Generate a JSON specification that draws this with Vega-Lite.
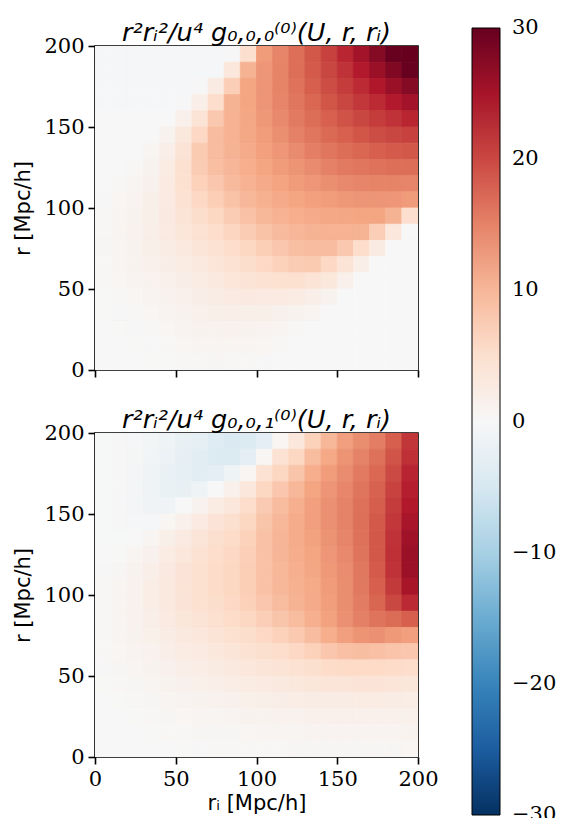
{
"$schema":"https://vega.github.io/schema/vega-lite/v6.json",
"padding":{"left":12,"top":19,"right":0,"bottom":0},
"background":"white",
"config":{
 "font":"DejaVu Sans",
 "view":{"stroke":"black","strokeWidth":1.6},
 "axis":{"grid":false,"domain":false,"labelFlush":false,"tickColor":"black","tickWidth":1.6,"tickSize":7,"labelFont":"DejaVu Serif","labelFontSize":21,"labelColor":"black","labelPadding":4,"titleFont":"DejaVu Sans","titleFontSize":21,"titleFontWeight":"normal","titleColor":"black"},
 "title":{"font":"DejaVu Sans","fontSize":25.5,"fontWeight":"normal","fontStyle":"italic","color":"black","anchor":"middle","frame":"group","baseline":"alphabetic","offset":-11}
},
"datasets":{
"top":[
{"u":5,"v":195,"z":-0.4},{"u":15,"v":195,"z":-0.4},{"u":25,"v":195,"z":-0.4},{"u":35,"v":195,"z":-0.4},{"u":45,"v":195,"z":-0.4},{"u":55,"v":195,"z":-0.4},{"u":65,"v":195,"z":-0.4},{"u":75,"v":195,"z":-0.3},{"u":85,"v":195,"z":-0.2},{"u":95,"v":195,"z":5.1},{"u":105,"v":195,"z":12.9},{"u":115,"v":195,"z":14.8},{"u":125,"v":195,"z":16.7},{"u":135,"v":195,"z":18.6},{"u":145,"v":195,"z":20.5},{"u":155,"v":195,"z":22.8},{"u":165,"v":195,"z":25.2},{"u":175,"v":195,"z":27.6},{"u":185,"v":195,"z":29.9},{"u":195,"v":195,"z":32},
{"u":5,"v":185,"z":-0.4},{"u":15,"v":185,"z":-0.4},{"u":25,"v":185,"z":-0.4},{"u":35,"v":185,"z":-0.4},{"u":45,"v":185,"z":-0.4},{"u":55,"v":185,"z":-0.4},{"u":65,"v":185,"z":-0.4},{"u":75,"v":185,"z":-0.3},{"u":85,"v":185,"z":3.5},{"u":95,"v":185,"z":10.5},{"u":105,"v":185,"z":13.3},{"u":115,"v":185,"z":14.9},{"u":125,"v":185,"z":16.7},{"u":135,"v":185,"z":18.4},{"u":145,"v":185,"z":20.1},{"u":155,"v":185,"z":21.8},{"u":165,"v":185,"z":23.9},{"u":175,"v":185,"z":25.9},{"u":185,"v":185,"z":28},{"u":195,"v":185,"z":29.9},
{"u":5,"v":175,"z":-0.4},{"u":15,"v":175,"z":-0.4},{"u":25,"v":175,"z":-0.4},{"u":35,"v":175,"z":-0.4},{"u":45,"v":175,"z":-0.4},{"u":55,"v":175,"z":-0.4},{"u":65,"v":175,"z":-0.2},{"u":75,"v":175,"z":2.6},{"u":85,"v":175,"z":7.4},{"u":95,"v":175,"z":11.9},{"u":105,"v":175,"z":13.4},{"u":115,"v":175,"z":14.9},{"u":125,"v":175,"z":16.4},{"u":135,"v":175,"z":18},{"u":145,"v":175,"z":19.6},{"u":155,"v":175,"z":21},{"u":165,"v":175,"z":22.4},{"u":175,"v":175,"z":24.2},{"u":185,"v":175,"z":25.9},{"u":195,"v":175,"z":27.6},
{"u":5,"v":165,"z":-0.3},{"u":15,"v":165,"z":-0.3},{"u":25,"v":165,"z":-0.3},{"u":35,"v":165,"z":-0.3},{"u":45,"v":165,"z":-0.3},{"u":55,"v":165,"z":-0.2},{"u":65,"v":165,"z":1.9},{"u":75,"v":165,"z":5.5},{"u":85,"v":165,"z":10.5},{"u":95,"v":165,"z":11.9},{"u":105,"v":165,"z":13.4},{"u":115,"v":165,"z":14.8},{"u":125,"v":165,"z":16.1},{"u":135,"v":165,"z":17.4},{"u":145,"v":165,"z":18.8},{"u":155,"v":165,"z":20.1},{"u":165,"v":165,"z":21.3},{"u":175,"v":165,"z":22.4},{"u":185,"v":165,"z":23.9},{"u":195,"v":165,"z":25.2},
{"u":5,"v":155,"z":0},{"u":15,"v":155,"z":0},{"u":25,"v":155,"z":0},{"u":35,"v":155,"z":0},{"u":45,"v":155,"z":0},{"u":55,"v":155,"z":1.5},{"u":65,"v":155,"z":4.2},{"u":75,"v":155,"z":8.1},{"u":85,"v":155,"z":10.6},{"u":95,"v":155,"z":11.8},{"u":105,"v":155,"z":13.1},{"u":115,"v":155,"z":14.4},{"u":125,"v":155,"z":15.7},{"u":135,"v":155,"z":16.9},{"u":145,"v":155,"z":17.9},{"u":155,"v":155,"z":19.1},{"u":165,"v":155,"z":20.1},{"u":175,"v":155,"z":21},{"u":185,"v":155,"z":21.8},{"u":195,"v":155,"z":22.8},
{"u":5,"v":145,"z":0},{"u":15,"v":145,"z":0},{"u":25,"v":145,"z":0},{"u":35,"v":145,"z":0},{"u":45,"v":145,"z":1},{"u":55,"v":145,"z":3.2},{"u":65,"v":145,"z":6.2},{"u":75,"v":145,"z":9.4},{"u":85,"v":145,"z":10.6},{"u":95,"v":145,"z":11.7},{"u":105,"v":145,"z":12.7},{"u":115,"v":145,"z":13.9},{"u":125,"v":145,"z":15.1},{"u":135,"v":145,"z":16.1},{"u":145,"v":145,"z":17.1},{"u":155,"v":145,"z":17.9},{"u":165,"v":145,"z":18.8},{"u":175,"v":145,"z":19.6},{"u":185,"v":145,"z":20.1},{"u":195,"v":145,"z":20.5},
{"u":5,"v":135,"z":0},{"u":15,"v":135,"z":0},{"u":25,"v":135,"z":0},{"u":35,"v":135,"z":0.6},{"u":45,"v":135,"z":1.9},{"u":55,"v":135,"z":4.2},{"u":65,"v":135,"z":7.9},{"u":75,"v":135,"z":9.4},{"u":85,"v":135,"z":10.4},{"u":95,"v":135,"z":11.4},{"u":105,"v":135,"z":12.4},{"u":115,"v":135,"z":13.3},{"u":125,"v":135,"z":14.3},{"u":135,"v":135,"z":15.3},{"u":145,"v":135,"z":16.1},{"u":155,"v":135,"z":16.9},{"u":165,"v":135,"z":17.4},{"u":175,"v":135,"z":18},{"u":185,"v":135,"z":18.4},{"u":195,"v":135,"z":18.6},
{"u":5,"v":125,"z":0},{"u":15,"v":125,"z":0},{"u":25,"v":125,"z":0.3},{"u":35,"v":125,"z":1.1},{"u":45,"v":125,"z":2.5},{"u":55,"v":125,"z":4.7},{"u":65,"v":125,"z":7.7},{"u":75,"v":125,"z":9.1},{"u":85,"v":125,"z":10.1},{"u":95,"v":125,"z":11},{"u":105,"v":125,"z":11.9},{"u":115,"v":125,"z":12.8},{"u":125,"v":125,"z":13.5},{"u":135,"v":125,"z":14.3},{"u":145,"v":125,"z":15.1},{"u":155,"v":125,"z":15.7},{"u":165,"v":125,"z":16.1},{"u":175,"v":125,"z":16.4},{"u":185,"v":125,"z":16.7},{"u":195,"v":125,"z":16.7},
{"u":5,"v":115,"z":0},{"u":15,"v":115,"z":0.2},{"u":25,"v":115,"z":0.7},{"u":35,"v":115,"z":1.4},{"u":45,"v":115,"z":2.7},{"u":55,"v":115,"z":4.8},{"u":65,"v":115,"z":7},{"u":75,"v":115,"z":8.3},{"u":85,"v":115,"z":9.7},{"u":95,"v":115,"z":10.6},{"u":105,"v":115,"z":11.4},{"u":115,"v":115,"z":12.1},{"u":125,"v":115,"z":12.8},{"u":135,"v":115,"z":13.3},{"u":145,"v":115,"z":13.9},{"u":155,"v":115,"z":14.4},{"u":165,"v":115,"z":14.8},{"u":175,"v":115,"z":14.9},{"u":185,"v":115,"z":14.9},{"u":195,"v":115,"z":14.8},
{"u":5,"v":105,"z":0.15},{"u":15,"v":105,"z":0.5},{"u":25,"v":105,"z":0.9},{"u":35,"v":105,"z":1.7},{"u":45,"v":105,"z":2.8},{"u":55,"v":105,"z":4.5},{"u":65,"v":105,"z":6.2},{"u":75,"v":105,"z":7.5},{"u":85,"v":105,"z":8.7},{"u":95,"v":105,"z":10},{"u":105,"v":105,"z":10.7},{"u":115,"v":105,"z":11.4},{"u":125,"v":105,"z":11.9},{"u":135,"v":105,"z":12.4},{"u":145,"v":105,"z":12.7},{"u":155,"v":105,"z":13.1},{"u":165,"v":105,"z":13.4},{"u":175,"v":105,"z":13.4},{"u":185,"v":105,"z":13.3},{"u":195,"v":105,"z":12.9},
{"u":5,"v":95,"z":0.3},{"u":15,"v":95,"z":0.6},{"u":25,"v":95,"z":1.1},{"u":35,"v":95,"z":1.8},{"u":45,"v":95,"z":2.9},{"u":55,"v":95,"z":4.2},{"u":65,"v":95,"z":5.3},{"u":75,"v":95,"z":6.5},{"u":85,"v":95,"z":7.7},{"u":95,"v":95,"z":8.8},{"u":105,"v":95,"z":10},{"u":115,"v":95,"z":10.6},{"u":125,"v":95,"z":11},{"u":135,"v":95,"z":11.4},{"u":145,"v":95,"z":11.7},{"u":155,"v":95,"z":11.8},{"u":165,"v":95,"z":11.9},{"u":175,"v":95,"z":11.9},{"u":185,"v":95,"z":10.5},{"u":195,"v":95,"z":5.1},
{"u":5,"v":85,"z":0.3},{"u":15,"v":85,"z":0.7},{"u":25,"v":85,"z":1.2},{"u":35,"v":85,"z":1.9},{"u":45,"v":85,"z":2.8},{"u":55,"v":85,"z":3.7},{"u":65,"v":85,"z":4.5},{"u":75,"v":85,"z":5.5},{"u":85,"v":85,"z":6.6},{"u":95,"v":85,"z":7.7},{"u":105,"v":85,"z":8.7},{"u":115,"v":85,"z":9.7},{"u":125,"v":85,"z":10.1},{"u":135,"v":85,"z":10.4},{"u":145,"v":85,"z":10.6},{"u":155,"v":85,"z":10.6},{"u":165,"v":85,"z":10.5},{"u":175,"v":85,"z":7.4},{"u":185,"v":85,"z":3.5},{"u":195,"v":85,"z":0},
{"u":5,"v":75,"z":0.4},{"u":15,"v":75,"z":0.7},{"u":25,"v":75,"z":1.1},{"u":35,"v":75,"z":1.8},{"u":45,"v":75,"z":2.4},{"u":55,"v":75,"z":3},{"u":65,"v":75,"z":3.8},{"u":75,"v":75,"z":4.6},{"u":85,"v":75,"z":5.5},{"u":95,"v":75,"z":6.5},{"u":105,"v":75,"z":7.5},{"u":115,"v":75,"z":8.3},{"u":125,"v":75,"z":9.1},{"u":135,"v":75,"z":9.4},{"u":145,"v":75,"z":9.4},{"u":155,"v":75,"z":8.1},{"u":165,"v":75,"z":5.5},{"u":175,"v":75,"z":2.6},{"u":185,"v":75,"z":0},{"u":195,"v":75,"z":0},
{"u":5,"v":65,"z":0.3},{"u":15,"v":65,"z":0.6},{"u":25,"v":65,"z":1},{"u":35,"v":65,"z":1.5},{"u":45,"v":65,"z":2},{"u":55,"v":65,"z":2.5},{"u":65,"v":65,"z":3},{"u":75,"v":65,"z":3.8},{"u":85,"v":65,"z":4.5},{"u":95,"v":65,"z":5.3},{"u":105,"v":65,"z":6.2},{"u":115,"v":65,"z":7},{"u":125,"v":65,"z":7.7},{"u":135,"v":65,"z":7.9},{"u":145,"v":65,"z":6.2},{"u":155,"v":65,"z":4.2},{"u":165,"v":65,"z":1.9},{"u":175,"v":65,"z":0},{"u":185,"v":65,"z":0},{"u":195,"v":65,"z":0},
{"u":5,"v":55,"z":0.2},{"u":15,"v":55,"z":0.5},{"u":25,"v":55,"z":0.8},{"u":35,"v":55,"z":1.1},{"u":45,"v":55,"z":1.5},{"u":55,"v":55,"z":2},{"u":65,"v":55,"z":2.5},{"u":75,"v":55,"z":3},{"u":85,"v":55,"z":3.7},{"u":95,"v":55,"z":4.2},{"u":105,"v":55,"z":4.5},{"u":115,"v":55,"z":4.8},{"u":125,"v":55,"z":4.7},{"u":135,"v":55,"z":4.2},{"u":145,"v":55,"z":3.2},{"u":155,"v":55,"z":1.5},{"u":165,"v":55,"z":0},{"u":175,"v":55,"z":0},{"u":185,"v":55,"z":0},{"u":195,"v":55,"z":0},
{"u":5,"v":45,"z":0.1},{"u":15,"v":45,"z":0.3},{"u":25,"v":45,"z":0.5},{"u":35,"v":45,"z":0.8},{"u":45,"v":45,"z":1.1},{"u":55,"v":45,"z":1.5},{"u":65,"v":45,"z":2},{"u":75,"v":45,"z":2.4},{"u":85,"v":45,"z":2.8},{"u":95,"v":45,"z":2.9},{"u":105,"v":45,"z":2.8},{"u":115,"v":45,"z":2.7},{"u":125,"v":45,"z":2.5},{"u":135,"v":45,"z":1.9},{"u":145,"v":45,"z":1},{"u":155,"v":45,"z":0},{"u":165,"v":45,"z":0},{"u":175,"v":45,"z":0},{"u":185,"v":45,"z":0},{"u":195,"v":45,"z":0},
{"u":5,"v":35,"z":0.1},{"u":15,"v":35,"z":0.15},{"u":25,"v":35,"z":0.3},{"u":35,"v":35,"z":0.5},{"u":45,"v":35,"z":0.8},{"u":55,"v":35,"z":1.1},{"u":65,"v":35,"z":1.5},{"u":75,"v":35,"z":1.8},{"u":85,"v":35,"z":1.9},{"u":95,"v":35,"z":1.8},{"u":105,"v":35,"z":1.7},{"u":115,"v":35,"z":1.4},{"u":125,"v":35,"z":1.1},{"u":135,"v":35,"z":0.6},{"u":145,"v":35,"z":0},{"u":155,"v":35,"z":0},{"u":165,"v":35,"z":0},{"u":175,"v":35,"z":0},{"u":185,"v":35,"z":0},{"u":195,"v":35,"z":0},
{"u":5,"v":25,"z":0.05},{"u":15,"v":25,"z":0.1},{"u":25,"v":25,"z":0.15},{"u":35,"v":25,"z":0.3},{"u":45,"v":25,"z":0.5},{"u":55,"v":25,"z":0.8},{"u":65,"v":25,"z":1},{"u":75,"v":25,"z":1.1},{"u":85,"v":25,"z":1.2},{"u":95,"v":25,"z":1.1},{"u":105,"v":25,"z":0.9},{"u":115,"v":25,"z":0.7},{"u":125,"v":25,"z":0.3},{"u":135,"v":25,"z":0},{"u":145,"v":25,"z":0},{"u":155,"v":25,"z":0},{"u":165,"v":25,"z":0},{"u":175,"v":25,"z":0},{"u":185,"v":25,"z":0},{"u":195,"v":25,"z":0},
{"u":5,"v":15,"z":0},{"u":15,"v":15,"z":0.05},{"u":25,"v":15,"z":0.1},{"u":35,"v":15,"z":0.15},{"u":45,"v":15,"z":0.3},{"u":55,"v":15,"z":0.5},{"u":65,"v":15,"z":0.6},{"u":75,"v":15,"z":0.7},{"u":85,"v":15,"z":0.7},{"u":95,"v":15,"z":0.6},{"u":105,"v":15,"z":0.5},{"u":115,"v":15,"z":0.2},{"u":125,"v":15,"z":0},{"u":135,"v":15,"z":0},{"u":145,"v":15,"z":0},{"u":155,"v":15,"z":0},{"u":165,"v":15,"z":0},{"u":175,"v":15,"z":0},{"u":185,"v":15,"z":0},{"u":195,"v":15,"z":0},
{"u":5,"v":5,"z":0},{"u":15,"v":5,"z":0},{"u":25,"v":5,"z":0.05},{"u":35,"v":5,"z":0.1},{"u":45,"v":5,"z":0.1},{"u":55,"v":5,"z":0.2},{"u":65,"v":5,"z":0.3},{"u":75,"v":5,"z":0.4},{"u":85,"v":5,"z":0.3},{"u":95,"v":5,"z":0.3},{"u":105,"v":5,"z":0.15},{"u":115,"v":5,"z":0},{"u":125,"v":5,"z":0},{"u":135,"v":5,"z":0},{"u":145,"v":5,"z":0},{"u":155,"v":5,"z":0},{"u":165,"v":5,"z":0},{"u":175,"v":5,"z":0},{"u":185,"v":5,"z":0},{"u":195,"v":5,"z":0}
],
"bot":[
{"u":5,"v":195,"z":-0.1},{"u":15,"v":195,"z":-0.2},{"u":25,"v":195,"z":-0.4},{"u":35,"v":195,"z":-0.8},{"u":45,"v":195,"z":-1.5},{"u":55,"v":195,"z":-2.2},{"u":65,"v":195,"z":-2.8},{"u":75,"v":195,"z":-3.8},{"u":85,"v":195,"z":-4.5},{"u":95,"v":195,"z":-4.3},{"u":105,"v":195,"z":-3},{"u":115,"v":195,"z":0.5},{"u":125,"v":195,"z":3.5},{"u":135,"v":195,"z":7},{"u":145,"v":195,"z":10},{"u":155,"v":195,"z":12.5},{"u":165,"v":195,"z":14},{"u":175,"v":195,"z":15.5},{"u":185,"v":195,"z":18},{"u":195,"v":195,"z":21.5},
{"u":5,"v":185,"z":-0.1},{"u":15,"v":185,"z":-0.2},{"u":25,"v":185,"z":-0.5},{"u":35,"v":185,"z":-1},{"u":45,"v":185,"z":-1.8},{"u":55,"v":185,"z":-2.6},{"u":65,"v":185,"z":-3.3},{"u":75,"v":185,"z":-4.2},{"u":85,"v":185,"z":-4.3},{"u":95,"v":185,"z":-3},{"u":105,"v":185,"z":0.5},{"u":115,"v":185,"z":4.5},{"u":125,"v":185,"z":6.5},{"u":135,"v":185,"z":9.5},{"u":145,"v":185,"z":11.6},{"u":155,"v":185,"z":13.5},{"u":165,"v":185,"z":15},{"u":175,"v":185,"z":16.5},{"u":185,"v":185,"z":19},{"u":195,"v":185,"z":22},
{"u":5,"v":175,"z":-0.1},{"u":15,"v":175,"z":-0.2},{"u":25,"v":175,"z":-0.6},{"u":35,"v":175,"z":-1.2},{"u":45,"v":175,"z":-2},{"u":55,"v":175,"z":-2.8},{"u":65,"v":175,"z":-3.5},{"u":75,"v":175,"z":-3},{"u":85,"v":175,"z":-1.5},{"u":95,"v":175,"z":0.5},{"u":105,"v":175,"z":4.5},{"u":115,"v":175,"z":6.5},{"u":125,"v":175,"z":8.5},{"u":135,"v":175,"z":11},{"u":145,"v":175,"z":12.7},{"u":155,"v":175,"z":14.2},{"u":165,"v":175,"z":15.7},{"u":175,"v":175,"z":17.3},{"u":185,"v":175,"z":19.8},{"u":195,"v":175,"z":23},
{"u":5,"v":165,"z":-0.1},{"u":15,"v":165,"z":-0.2},{"u":25,"v":165,"z":-0.7},{"u":35,"v":165,"z":-1.3},{"u":45,"v":165,"z":-2},{"u":55,"v":165,"z":-2.2},{"u":65,"v":165,"z":-1.5},{"u":75,"v":165,"z":0},{"u":85,"v":165,"z":1.5},{"u":95,"v":165,"z":3.5},{"u":105,"v":165,"z":6.5},{"u":115,"v":165,"z":8.2},{"u":125,"v":165,"z":10},{"u":135,"v":165,"z":12},{"u":145,"v":165,"z":13.4},{"u":155,"v":165,"z":14.7},{"u":165,"v":165,"z":16.2},{"u":175,"v":165,"z":17.8},{"u":185,"v":165,"z":20.4},{"u":195,"v":165,"z":23.5},
{"u":5,"v":155,"z":-0.1},{"u":15,"v":155,"z":-0.2},{"u":25,"v":155,"z":-0.6},{"u":35,"v":155,"z":-1.2},{"u":45,"v":155,"z":-1.2},{"u":55,"v":155,"z":0},{"u":65,"v":155,"z":1},{"u":75,"v":155,"z":2.5},{"u":85,"v":155,"z":3.5},{"u":95,"v":155,"z":5.5},{"u":105,"v":155,"z":7.8},{"u":115,"v":155,"z":9.5},{"u":125,"v":155,"z":10.8},{"u":135,"v":155,"z":12.5},{"u":145,"v":155,"z":13.8},{"u":155,"v":155,"z":15},{"u":165,"v":155,"z":16.5},{"u":175,"v":155,"z":18.2},{"u":185,"v":155,"z":21},{"u":195,"v":155,"z":24},
{"u":5,"v":145,"z":-0.1},{"u":15,"v":145,"z":-0.2},{"u":25,"v":145,"z":-0.4},{"u":35,"v":145,"z":-0.4},{"u":45,"v":145,"z":0.5},{"u":55,"v":145,"z":1.5},{"u":65,"v":145,"z":2.8},{"u":75,"v":145,"z":4},{"u":85,"v":145,"z":5},{"u":95,"v":145,"z":6.5},{"u":105,"v":145,"z":8.5},{"u":115,"v":145,"z":10},{"u":125,"v":145,"z":11.2},{"u":135,"v":145,"z":12.5},{"u":145,"v":145,"z":13.8},{"u":155,"v":145,"z":15},{"u":165,"v":145,"z":16.6},{"u":175,"v":145,"z":18.5},{"u":185,"v":145,"z":21.4},{"u":195,"v":145,"z":24.7},
{"u":5,"v":135,"z":-0.1},{"u":15,"v":135,"z":-0.1},{"u":25,"v":135,"z":0},{"u":35,"v":135,"z":0.6},{"u":45,"v":135,"z":1.7},{"u":55,"v":135,"z":2.7},{"u":65,"v":135,"z":3.9},{"u":75,"v":135,"z":5},{"u":85,"v":135,"z":5.8},{"u":95,"v":135,"z":7},{"u":105,"v":135,"z":8.8},{"u":115,"v":135,"z":10.2},{"u":125,"v":135,"z":11.2},{"u":135,"v":135,"z":12.3},{"u":145,"v":135,"z":13.6},{"u":155,"v":135,"z":14.8},{"u":165,"v":135,"z":16.5},{"u":175,"v":135,"z":18.6},{"u":185,"v":135,"z":21.8},{"u":195,"v":135,"z":25.5},
{"u":5,"v":125,"z":0},{"u":15,"v":125,"z":0.1},{"u":25,"v":125,"z":0.6},{"u":35,"v":125,"z":1.4},{"u":45,"v":125,"z":2.5},{"u":55,"v":125,"z":3.5},{"u":65,"v":125,"z":4.5},{"u":75,"v":125,"z":5.5},{"u":85,"v":125,"z":6.3},{"u":95,"v":125,"z":7.3},{"u":105,"v":125,"z":8.9},{"u":115,"v":125,"z":10.2},{"u":125,"v":125,"z":11.1},{"u":135,"v":125,"z":12},{"u":145,"v":125,"z":13.3},{"u":155,"v":125,"z":14.5},{"u":165,"v":125,"z":16.3},{"u":175,"v":125,"z":18.6},{"u":185,"v":125,"z":22},{"u":195,"v":125,"z":26},
{"u":5,"v":115,"z":0.15},{"u":15,"v":115,"z":0.4},{"u":25,"v":115,"z":1},{"u":35,"v":115,"z":1.9},{"u":45,"v":115,"z":2.9},{"u":55,"v":115,"z":4},{"u":65,"v":115,"z":4.8},{"u":75,"v":115,"z":5.7},{"u":85,"v":115,"z":6.5},{"u":95,"v":115,"z":7.5},{"u":105,"v":115,"z":8.9},{"u":115,"v":115,"z":10},{"u":125,"v":115,"z":10.9},{"u":135,"v":115,"z":11.8},{"u":145,"v":115,"z":13},{"u":155,"v":115,"z":14.2},{"u":165,"v":115,"z":16},{"u":175,"v":115,"z":18.4},{"u":185,"v":115,"z":21.8},{"u":195,"v":115,"z":25.8},
{"u":5,"v":105,"z":0.25},{"u":15,"v":105,"z":0.6},{"u":25,"v":105,"z":1.2},{"u":35,"v":105,"z":2.1},{"u":45,"v":105,"z":3},{"u":55,"v":105,"z":4.1},{"u":65,"v":105,"z":4.9},{"u":75,"v":105,"z":5.7},{"u":85,"v":105,"z":6.5},{"u":95,"v":105,"z":7.5},{"u":105,"v":105,"z":8.8},{"u":115,"v":105,"z":10},{"u":125,"v":105,"z":10.7},{"u":135,"v":105,"z":11.5},{"u":145,"v":105,"z":12.8},{"u":155,"v":105,"z":14},{"u":165,"v":105,"z":15.8},{"u":175,"v":105,"z":18},{"u":185,"v":105,"z":21.2},{"u":195,"v":105,"z":24.8},
{"u":5,"v":95,"z":0.3},{"u":15,"v":95,"z":0.7},{"u":25,"v":95,"z":1.3},{"u":35,"v":95,"z":2.1},{"u":45,"v":95,"z":3},{"u":55,"v":95,"z":4},{"u":65,"v":95,"z":4.7},{"u":75,"v":95,"z":5.4},{"u":85,"v":95,"z":6.2},{"u":95,"v":95,"z":7.1},{"u":105,"v":95,"z":8.3},{"u":115,"v":95,"z":9.5},{"u":125,"v":95,"z":10.4},{"u":135,"v":95,"z":11.3},{"u":145,"v":95,"z":12.6},{"u":155,"v":95,"z":14},{"u":165,"v":95,"z":15.6},{"u":175,"v":95,"z":17.5},{"u":185,"v":95,"z":20},{"u":195,"v":95,"z":22.5},
{"u":5,"v":85,"z":0.3},{"u":15,"v":85,"z":0.7},{"u":25,"v":85,"z":1.2},{"u":35,"v":85,"z":1.9},{"u":45,"v":85,"z":2.7},{"u":55,"v":85,"z":3.6},{"u":65,"v":85,"z":4.2},{"u":75,"v":85,"z":4.9},{"u":85,"v":85,"z":5.6},{"u":95,"v":85,"z":6.4},{"u":105,"v":85,"z":7.4},{"u":115,"v":85,"z":8.5},{"u":125,"v":85,"z":9.5},{"u":135,"v":85,"z":10.8},{"u":145,"v":85,"z":12.3},{"u":155,"v":85,"z":13.8},{"u":165,"v":85,"z":15.2},{"u":175,"v":85,"z":16.3},{"u":185,"v":85,"z":17},{"u":195,"v":85,"z":18},
{"u":5,"v":75,"z":0.25},{"u":15,"v":75,"z":0.6},{"u":25,"v":75,"z":1},{"u":35,"v":75,"z":1.6},{"u":45,"v":75,"z":2.3},{"u":55,"v":75,"z":3.1},{"u":65,"v":75,"z":3.5},{"u":75,"v":75,"z":4.1},{"u":85,"v":75,"z":4.7},{"u":95,"v":75,"z":5.4},{"u":105,"v":75,"z":6.2},{"u":115,"v":75,"z":7},{"u":125,"v":75,"z":8},{"u":135,"v":75,"z":9.3},{"u":145,"v":75,"z":11},{"u":155,"v":75,"z":12.5},{"u":165,"v":75,"z":13.5},{"u":175,"v":75,"z":13.8},{"u":185,"v":75,"z":13},{"u":195,"v":75,"z":12.5},
{"u":5,"v":65,"z":0.2},{"u":15,"v":65,"z":0.5},{"u":25,"v":65,"z":0.8},{"u":35,"v":65,"z":1.3},{"u":45,"v":65,"z":1.9},{"u":55,"v":65,"z":2.5},{"u":65,"v":65,"z":2.8},{"u":75,"v":65,"z":3.3},{"u":85,"v":65,"z":3.9},{"u":95,"v":65,"z":4.5},{"u":105,"v":65,"z":5},{"u":115,"v":65,"z":5.5},{"u":125,"v":65,"z":6.2},{"u":135,"v":65,"z":7},{"u":145,"v":65,"z":8.2},{"u":155,"v":65,"z":9},{"u":165,"v":65,"z":9.2},{"u":175,"v":65,"z":9},{"u":185,"v":65,"z":8.6},{"u":195,"v":65,"z":8.2},
{"u":5,"v":55,"z":0.15},{"u":15,"v":55,"z":0.35},{"u":25,"v":55,"z":0.6},{"u":35,"v":55,"z":1},{"u":45,"v":55,"z":1.4},{"u":55,"v":55,"z":1.9},{"u":65,"v":55,"z":2.2},{"u":75,"v":55,"z":2.6},{"u":85,"v":55,"z":3},{"u":95,"v":55,"z":3.5},{"u":105,"v":55,"z":3.8},{"u":115,"v":55,"z":4.2},{"u":125,"v":55,"z":4.6},{"u":135,"v":55,"z":5},{"u":145,"v":55,"z":5.6},{"u":155,"v":55,"z":6},{"u":165,"v":55,"z":6},{"u":175,"v":55,"z":6},{"u":185,"v":55,"z":5.8},{"u":195,"v":55,"z":5.5},
{"u":5,"v":45,"z":0.1},{"u":15,"v":45,"z":0.2},{"u":25,"v":45,"z":0.4},{"u":35,"v":45,"z":0.7},{"u":45,"v":45,"z":1},{"u":55,"v":45,"z":1.4},{"u":65,"v":45,"z":1.6},{"u":75,"v":45,"z":1.9},{"u":85,"v":45,"z":2.1},{"u":95,"v":45,"z":2.5},{"u":105,"v":45,"z":2.7},{"u":115,"v":45,"z":3},{"u":125,"v":45,"z":3.3},{"u":135,"v":45,"z":3.6},{"u":145,"v":45,"z":3.8},{"u":155,"v":45,"z":3.9},{"u":165,"v":45,"z":4},{"u":175,"v":45,"z":4},{"u":185,"v":45,"z":3.8},{"u":195,"v":45,"z":3.6},
{"u":5,"v":35,"z":0},{"u":15,"v":35,"z":0.1},{"u":25,"v":35,"z":0.25},{"u":35,"v":35,"z":0.4},{"u":45,"v":35,"z":0.6},{"u":55,"v":35,"z":0.9},{"u":65,"v":35,"z":1},{"u":75,"v":35,"z":1.2},{"u":85,"v":35,"z":1.4},{"u":95,"v":35,"z":1.6},{"u":105,"v":35,"z":1.8},{"u":115,"v":35,"z":2},{"u":125,"v":35,"z":2.2},{"u":135,"v":35,"z":2.4},{"u":145,"v":35,"z":2.4},{"u":155,"v":35,"z":2.4},{"u":165,"v":35,"z":2.5},{"u":175,"v":35,"z":2.5},{"u":185,"v":35,"z":2.3},{"u":195,"v":35,"z":2.2},
{"u":5,"v":25,"z":0},{"u":15,"v":25,"z":0.05},{"u":25,"v":25,"z":0.1},{"u":35,"v":25,"z":0.25},{"u":45,"v":25,"z":0.4},{"u":55,"v":25,"z":0.5},{"u":65,"v":25,"z":0.6},{"u":75,"v":25,"z":0.7},{"u":85,"v":25,"z":0.8},{"u":95,"v":25,"z":1},{"u":105,"v":25,"z":1.1},{"u":115,"v":25,"z":1.2},{"u":125,"v":25,"z":1.3},{"u":135,"v":25,"z":1.5},{"u":145,"v":25,"z":1.5},{"u":155,"v":25,"z":1.5},{"u":165,"v":25,"z":1.5},{"u":175,"v":25,"z":1.5},{"u":185,"v":25,"z":1.5},{"u":195,"v":25,"z":1.5},
{"u":5,"v":15,"z":0},{"u":15,"v":15,"z":0},{"u":25,"v":15,"z":0.05},{"u":35,"v":15,"z":0.1},{"u":45,"v":15,"z":0.2},{"u":55,"v":15,"z":0.3},{"u":65,"v":15,"z":0.35},{"u":75,"v":15,"z":0.4},{"u":85,"v":15,"z":0.45},{"u":95,"v":15,"z":0.5},{"u":105,"v":15,"z":0.6},{"u":115,"v":15,"z":0.7},{"u":125,"v":15,"z":0.7},{"u":135,"v":15,"z":0.8},{"u":145,"v":15,"z":0.8},{"u":155,"v":15,"z":0.8},{"u":165,"v":15,"z":0.8},{"u":175,"v":15,"z":0.8},{"u":185,"v":15,"z":0.9},{"u":195,"v":15,"z":1},
{"u":5,"v":5,"z":0},{"u":15,"v":5,"z":0},{"u":25,"v":5,"z":0},{"u":35,"v":5,"z":0},{"u":45,"v":5,"z":0.05},{"u":55,"v":5,"z":0.1},{"u":65,"v":5,"z":0.15},{"u":75,"v":5,"z":0.2},{"u":85,"v":5,"z":0.2},{"u":95,"v":5,"z":0.25},{"u":105,"v":5,"z":0.3},{"u":115,"v":5,"z":0.3},{"u":125,"v":5,"z":0.35},{"u":135,"v":5,"z":0.4},{"u":145,"v":5,"z":0.4},{"u":155,"v":5,"z":0.4},{"u":165,"v":5,"z":0.4},{"u":175,"v":5,"z":0.4},{"u":185,"v":5,"z":0.45},{"u":195,"v":5,"z":0.5}
]
},
"spacing":25,
"vconcat":[
{
 "title":"r²rᵢ²/u⁴ g₀,₀,₀⁽⁰⁾(U, r, rᵢ)",
 "width":323,"height":324,
 "data":{"name":"top"},
 "transform":[{"calculate":"datum.u-5","as":"u0"},{"calculate":"datum.u+5","as":"u1"},{"calculate":"datum.v-5","as":"v0"},{"calculate":"datum.v+5","as":"v1"}],
 "mark":{"type":"rect","clip":true,"strokeWidth":0.8,"stroke":{"expr":"scale('color', datum.z)"}},
 "encoding":{
  "x":{"field":"u0","type":"quantitative","scale":{"domain":[0,200],"nice":false},"axis":{"values":[0,50,100,150,200],"labels":false,"title":null}},
  "x2":{"field":"u1"},
  "y":{"field":"v0","type":"quantitative","scale":{"domain":[0,200],"nice":false},"axis":{"values":[0,50,100,150,200],"title":"r [Mpc/h]","titlePadding":10}},
  "y2":{"field":"v1"},
  "color":{"field":"z","type":"quantitative","scale":{"domain":[-30,30],"range":["#053061","#2166ac","#4393c3","#92c5de","#d1e5f0","#f7f7f7","#fddbc7","#f4a582","#d6604d","#b2182b","#67001f"],"interpolate":"rgb","clamp":true},"legend":{"type":"gradient","title":null,"values":[-30,-20,-10,0,10,20,30],"orient":"none","legendX":377,"legendY":-18,"direction":"vertical","gradientLength":787,"gradientThickness":28,"gradientStrokeColor":"black","gradientStrokeWidth":1,"labelFont":"DejaVu Serif","labelFontSize":21,"labelColor":"black","labelOffset":12,"labelBaseline":"middle","padding":0,"encode":{"labels":{"update":{"baseline":{"value":"middle"}}}}}}
 }
},
{
 "title":"r²rᵢ²/u⁴ g₀,₀,₁⁽⁰⁾(U, r, rᵢ)",
 "width":323,"height":324,
 "data":{"name":"bot"},
 "transform":[{"calculate":"datum.u-5","as":"u0"},{"calculate":"datum.u+5","as":"u1"},{"calculate":"datum.v-5","as":"v0"},{"calculate":"datum.v+5","as":"v1"}],
 "mark":{"type":"rect","clip":true,"strokeWidth":0.8,"stroke":{"expr":"scale('color', datum.z)"}},
 "encoding":{
  "x":{"field":"u0","type":"quantitative","scale":{"domain":[0,200],"nice":false},"axis":{"values":[0,50,100,150,200],"title":"rᵢ [Mpc/h]","titlePadding":3}},
  "x2":{"field":"u1"},
  "y":{"field":"v0","type":"quantitative","scale":{"domain":[0,200],"nice":false},"axis":{"values":[0,50,100,150,200],"title":"r [Mpc/h]","titlePadding":10}},
  "y2":{"field":"v1"},
  "color":{"field":"z","type":"quantitative","scale":{"domain":[-30,30],"range":["#053061","#2166ac","#4393c3","#92c5de","#d1e5f0","#f7f7f7","#fddbc7","#f4a582","#d6604d","#b2182b","#67001f"],"interpolate":"rgb","clamp":true},"legend":{"type":"gradient","title":null,"values":[-30,-20,-10,0,10,20,30],"orient":"none","legendX":377,"legendY":-18,"direction":"vertical","gradientLength":787,"gradientThickness":28,"gradientStrokeColor":"black","gradientStrokeWidth":1,"labelFont":"DejaVu Serif","labelFontSize":21,"labelColor":"black","labelOffset":12,"labelBaseline":"middle","padding":0,"encode":{"labels":{"update":{"baseline":{"value":"middle"}}}}}}
 }
}
],
"resolve":{"scale":{"color":"shared"}}
}
